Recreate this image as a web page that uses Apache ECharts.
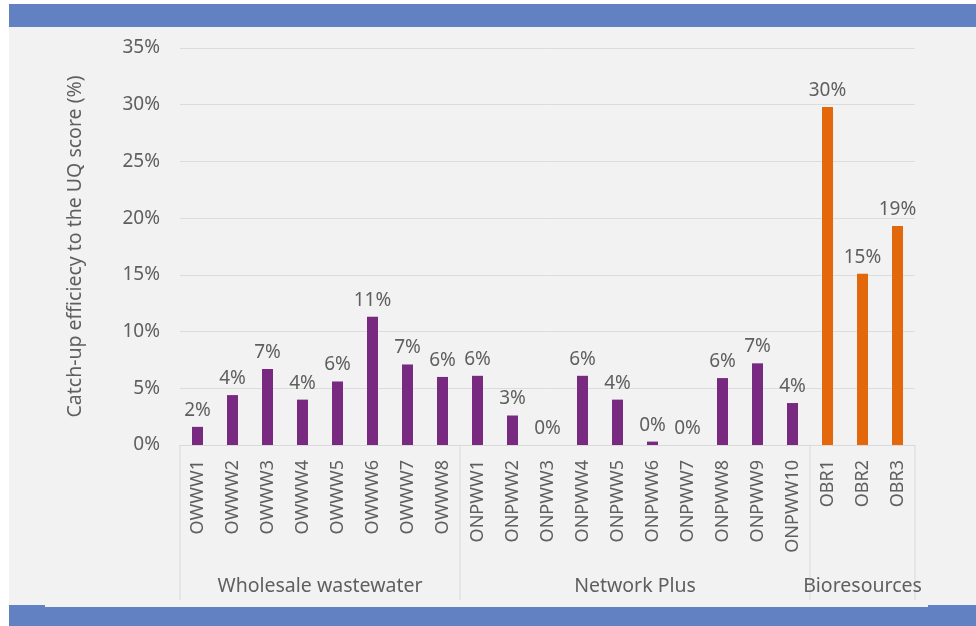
<!DOCTYPE html>
<html><head><meta charset="utf-8">
<script src="https://cdn.jsdelivr.net/npm/echarts@6/dist/echarts.min.js"></script>
<style>
html,body{margin:0;padding:0;background:#fff;}
#wrap{position:relative;width:976px;height:626px;overflow:hidden;}
.band{position:absolute;background:#6281c2;}
.panel{position:absolute;background:#f2f2f2;}
#chart{position:absolute;left:0;top:0;width:976px;height:626px;}
</style></head>
<body><div id="wrap">
<div class="band" style="left:9px;top:4px;width:967px;height:23px"></div>
<div class="panel" style="left:9px;top:27px;width:967px;height:578px"></div>
<div class="band" style="left:9px;top:605px;width:967px;height:21px"></div>
<div class="panel" style="left:45px;top:605px;width:883px;height:2px"></div>
<div id="chart"></div>
</div>
<script>
// Catch-up efficiency per model, grouped by price control
const categories = [
  'OWWW1','OWWW2','OWWW3','OWWW4','OWWW5','OWWW6','OWWW7','OWWW8',
  'ONPWW1','ONPWW2','ONPWW3','ONPWW4','ONPWW5','ONPWW6','ONPWW7','ONPWW8','ONPWW9','ONPWW10',
  'OBR1','OBR2','OBR3'
];
const values = [
  1.6, 4.4, 6.7, 4.0, 5.6, 11.3, 7.1, 6.0,
  6.1, 2.6, 0.0, 6.1, 4.0, 0.3, 0.0, 5.9, 7.2, 3.7,
  29.8, 15.1, 19.3
];
const groupNames = ['Wholesale wastewater', 'Network Plus', 'Bioresources'];
const groupSizes = [8, 10, 3];
const groupColors = ['#772a80', '#772a80', '#e3680b'];
const yMin = 0, yMax = 35, yStep = 5;

const FONT = '"Noto Sans", sans-serif';
const TEXT = '#5f5f5f';

// colour of each bar follows its group
const barData = [];
let k = 0;
groupSizes.forEach((n, g) => {
  for (let i = 0; i < n; i++, k++) {
    barData.push({ value: values[k], itemStyle: { color: groupColors[g] } });
  }
});

const chart = echarts.init(document.getElementById('chart'), null, { renderer: 'canvas' });
chart.setOption({
  backgroundColor: 'transparent',
  animation: false,
  grid: { left: 180, right: 61, top: 48, bottom: 181, containLabel: false },
  xAxis: {
    type: 'category',
    data: categories,
    axisLine: { lineStyle: { color: '#d9d9d9', width: 1 } },
    axisTick: { show: false },
    axisLabel: {
      rotate: 90, interval: 0, margin: 15,
      color: TEXT, fontSize: 18, fontFamily: FONT
    }
  },
  yAxis: {
    type: 'value',
    min: yMin, max: yMax, interval: yStep,
    name: 'Catch-up efficiecy to the UQ score (%)',
    nameLocation: 'middle', nameGap: 95, nameRotate: 90,
    nameTextStyle: { color: TEXT, fontSize: 19.5, fontFamily: FONT },
    axisLine: { show: false },
    axisTick: { show: false },
    axisLabel: { formatter: '{value}%', color: TEXT, fontSize: 19, fontFamily: FONT, margin: 20 },
    splitLine: { lineStyle: { color: '#dcdcdc', width: 1 } }
  },
  series: [{
    type: 'bar',
    data: barData,
    barWidth: 11,
    label: {
      show: true, position: 'top', distance: 7,
      color: TEXT, fontSize: 19, fontFamily: FONT,
      formatter: p => Math.round(p.value) + '%'
    }
  }]
});

// group separators and group captions below the category labels
const c0 = chart.convertToPixel({ xAxisIndex: 0 }, categories[0]);
const c1 = chart.convertToPixel({ xAxisIndex: 0 }, categories[1]);
const band = c1 - c0;
const yBase = chart.convertToPixel({ yAxisIndex: 0 }, 0);
const edge = i => chart.convertToPixel({ xAxisIndex: 0 }, categories[Math.min(i, categories.length - 1)]) + (i >= categories.length ? band / 2 : -band / 2);
const elements = [];
let start = 0;
elements.push({ type: 'line', shape: { x1: edge(0), y1: yBase, x2: edge(0), y2: 600 }, style: { stroke: '#d9d9d9', lineWidth: 1 } });
groupSizes.forEach((n, g) => {
  const left = edge(start), right = edge(start + n);
  elements.push({ type: 'line', shape: { x1: right, y1: yBase, x2: right, y2: 600 }, style: { stroke: '#d9d9d9', lineWidth: 1 } });
  elements.push({
    type: 'text', x: (left + right) / 2, y: 586,
    style: { text: groupNames[g], fill: TEXT, font: '19.5px ' + FONT, align: 'center', verticalAlign: 'middle' }
  });
  start += n;
});
chart.setOption({ graphic: elements });
</script>
</body></html>
